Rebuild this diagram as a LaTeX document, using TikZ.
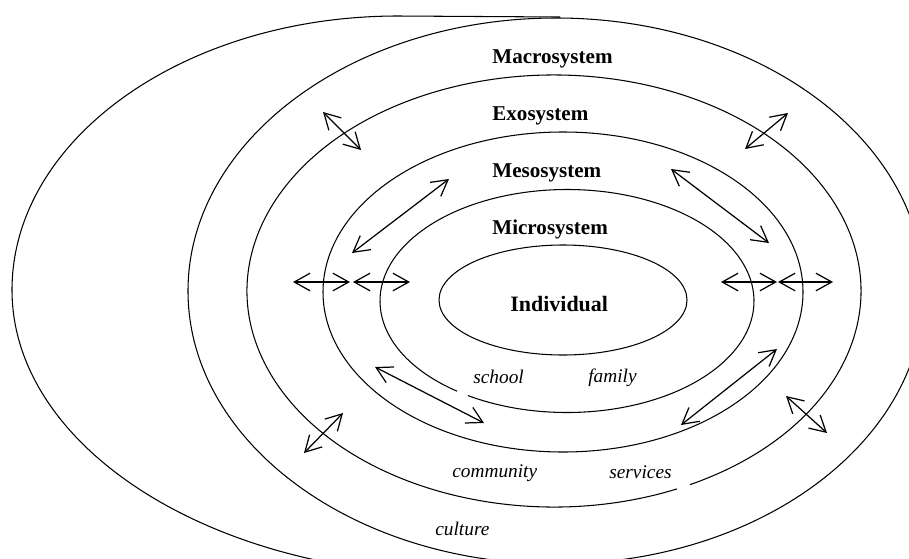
\documentclass[tikz,border=0pt]{standalone}
\usepackage{fontspec}
\setmainfont{Liberation Serif}
\usetikzlibrary{arrows.meta}
\begin{document}
\begin{tikzpicture}[x=0.02cm,y=-0.02cm,
  ring/.style={line width=0.6pt},
  link/.style={line width=0.7pt,
    {Straight Barb[length=9pt,width=10pt]}-{Straight Barb[length=9pt,width=10pt]}},
  level/.style={font=\fontsize{12}{14}\selectfont\bfseries,anchor=base west,inner sep=0pt},
  place/.style={font=\fontsize{11}{13}\selectfont\itshape,anchor=base west,inner sep=0pt}]
\clip (0,0) rectangle (909,558);
% rings, outside in
\draw[ring] (560,17) -- (398,16)
  arc[start angle=-90,end angle=-180,x radius=386,y radius=274]
  arc[start angle=180,end angle=90,x radius=447,y radius=285];
\draw[ring] (556,291) ellipse[x radius=368,y radius=273];
\draw[ring] (554,291) ++(66.4:307 and 216)
  arc[start angle=66.4,end angle=423.7,x radius=307,y radius=216];
\draw[ring] (563,292) ellipse[x radius=240,y radius=160];
\draw[ring] (567,301) ++(126:187 and 111.5)
  arc[start angle=126,end angle=482,x radius=187,y radius=111.5];
\draw[ring] (563,300) ellipse[x radius=124,y radius=55];
% level names
\node[level] (macro) at (492,63) {Macrosystem};
\node[level] (exo) at (492,120) {Exosystem};
\node[level] (meso) at (492,177) {Mesosystem};
\node[level] (micro) at (492,234) {Microsystem};
\node[level,font=\fontsize{12.5}{15}\selectfont\bfseries] (indiv) at (510,311) {Individual};
% settings
\node[place] (school) at (473,383) {school};
\node[place] (family) at (588,382) {family};
\node[place] (community) at (452,477) {community};
\node[place] (services) at (609,478) {services};
\node[place] (culture) at (435,535) {culture};
% two-way links
\foreach \n/\ax/\ay/\bx/\by in {
  1/293/282/350/282, 2/353/282/410/282, 3/721/282/777/282, 4/778/282/833/282,
  5/323/112/361/150, 6/788/113/745/149, 7/449/179/352/253, 8/671/169/769/243,
  9/375/367/484/423, 10/777/349/681/425, 11/343/413/304/453, 12/786/396/827/433}{
  \coordinate (from\n) at (\ax,\ay);
  \coordinate (to\n) at (\bx,\by);
  \draw[link] (from\n) -- (to\n);
}
\end{tikzpicture}
\end{document}
